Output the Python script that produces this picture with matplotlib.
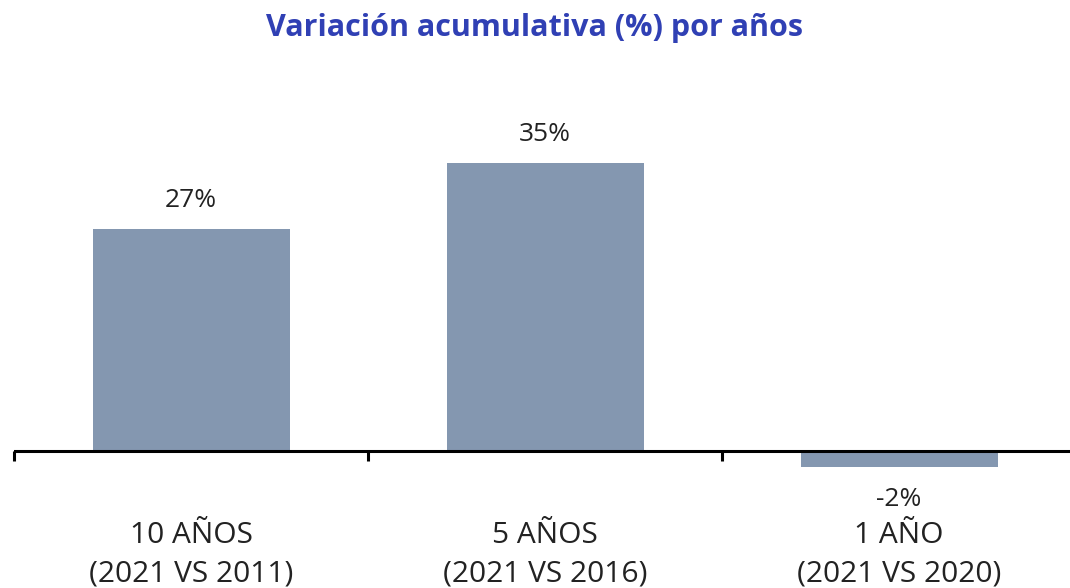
import matplotlib
matplotlib.use("Agg")
import matplotlib.pyplot as plt

categories = ["10 AÑOS\n(2021 VS 2011)", "5 AÑOS\n(2021 VS 2016)", "1 AÑO\n(2021 VS 2020)"]
values = [27, 35, -2]
value_labels = ["27%", "35%", "-2%"]
title = "Variación acumulativa (%) por años"

plt.rcParams['font.family'] = ['Open Sans', 'DejaVu Sans']

W, H = 1070, 588
fig = plt.figure(figsize=(W / 100, H / 100), dpi=100)

# axes placement (pixels)
left_px = 14
zero_px_from_bottom = H - 451
ppu = 8.22  # pixels per percent
ymin, ymax = -5, 40
bottom_px = zero_px_from_bottom + ymin * ppu
top_px = zero_px_from_bottom + ymax * ppu
ax = fig.add_axes([left_px / W, bottom_px / H, (W - left_px) / W, (top_px - bottom_px) / H])

cat_w = 354
x = list(range(len(values)))
ax.bar(x, values, width=197 / cat_w, color="#8497B0", zorder=2)
ax.set_xlim(-0.5, -0.5 + (W - left_px) / cat_w)
ax.set_ylim(ymin, ymax)

for s in ["top", "right", "left", "bottom"]:
    ax.spines[s].set_visible(False)
ax.axhline(0, color="black", lw=2.2, zorder=3, xmin=0, xmax=1)
ax.set_yticks([])
ax.set_xticks([])

# category boundary ticks
for b in [-0.5, 0.5, 1.5, 2.5]:
    ax.plot([b, b], [0, -10 / ppu], color="black", lw=2.2, solid_capstyle="butt", zorder=3, clip_on=False)

# value labels
for xi, v, lab in zip(x, values, value_labels):
    if v >= 0:
        ax.annotate(lab, (xi, v), xytext=(0, 29), textcoords="offset pixels",
                    ha="center", va="center", fontsize=19, color="#222222")
    else:
        ax.annotate(lab, (xi, v), xytext=(0, -32), textcoords="offset pixels",
                    ha="center", va="center", fontsize=19, color="#222222")

# category labels
for xi, c in zip(x, categories):
    fig.text((left_px + (xi + 0.5) * cat_w) / W, 1 - 555 / H, c, ha="center", va="center",
             fontsize=21.5, color="#222222", linespacing=1.42)

fig.text(0.5, 1 - 28 / H, title, ha="center", va="center", fontsize=22,
         fontweight="bold", color="#3040B4")

fig.savefig("out.png", dpi=100, facecolor="white")
